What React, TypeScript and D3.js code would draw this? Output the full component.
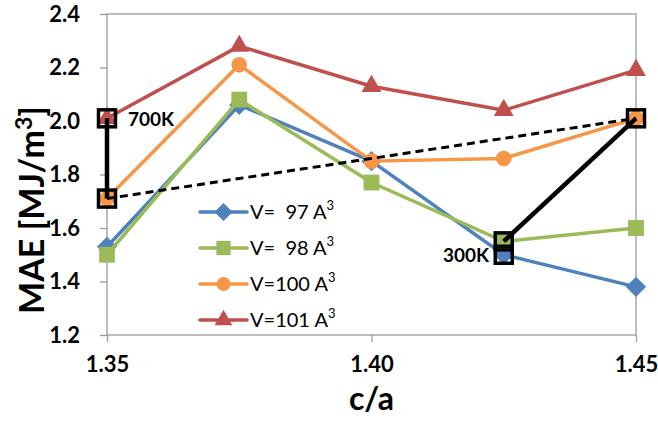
import React, { useEffect, useRef } from 'react';
import * as d3 from 'd3';

// c/a values on the x axis
const ca = [1.35, 1.375, 1.4, 1.425, 1.45];
const xTicks = [1.35, 1.4, 1.45];
const yTicks = [1.2, 1.4, 1.6, 1.8, 2.0, 2.2, 2.4];

const v97 = [1.53, 2.06, 1.85, 1.5, 1.38];
const v98 = [1.5, 2.08, 1.77, 1.55, 1.6];
const v100 = [1.71, 2.21, 1.85, 1.86, 2.01];
const v101 = [2.01, 2.28, 2.13, 2.04, 2.19];

const seriesNames = ['V=  97 A', 'V=  98 A', 'V=100 A', 'V=101 A'];

// black overlay: 700K / 300K
const solid700 = [[1.35, 2.01], [1.35, 1.71]];
const dashed = [[1.35, 1.71], [1.45, 2.01]];
const solid300 = [[1.425, 1.55], [1.45, 2.01]];
const boxes = [[1.35, 2.01], [1.35, 1.71], [1.425, 1.55], [1.425, 1.5], [1.45, 2.01]];

export default function App() {
  const ref = useRef<SVGSVGElement>(null);

  useEffect(() => {
    const svg = d3.select(ref.current);
    svg.selectAll('*').remove();
    const font = 'Lato, "Open Sans", sans-serif';
    const left = 107, right = 636, top = 14, bottom = 335;

    const x = d3.scaleLinear().domain([1.35, 1.45]).range([left, right]);
    const y = d3.scaleLinear().domain([1.2, 2.4]).range([bottom, top]);
    const grey = '#9a9a9a';

    // plot frame
    svg.append('rect')
      .attr('x', left).attr('y', top)
      .attr('width', right - left).attr('height', bottom - top)
      .attr('fill', 'none').attr('stroke', grey).attr('stroke-width', 1.3);

    const yAxis = svg.append('g')
      .attr('transform', `translate(${left},0)`)
      .call(d3.axisLeft(y).tickValues(yTicks).tickFormat(d3.format('.1f')).tickSize(7).tickPadding(20));
    yAxis.select('.domain').remove();
    yAxis.selectAll('line').attr('stroke', grey).attr('stroke-width', 1.3);
    yAxis.selectAll('text').attr('font-family', font).attr('font-size', 22)
      .attr('font-weight', 'bold').attr('fill', '#000');

    const xAxis = svg.append('g')
      .attr('transform', `translate(0,${bottom})`)
      .call(d3.axisBottom(x).tickValues(xTicks).tickFormat(d3.format('.2f')).tickSize(7).tickPadding(14));
    xAxis.select('.domain').remove();
    xAxis.selectAll('line').attr('stroke', grey).attr('stroke-width', 1.3);
    xAxis.selectAll('text').attr('font-family', font).attr('font-size', 22)
      .attr('font-weight', 'bold').attr('fill', '#000');

    svg.append('text')
      .attr('x', (left + right) / 2).attr('y', 410)
      .attr('text-anchor', 'middle')
      .attr('font-family', font).attr('font-size', 32).attr('font-weight', 'bold')
      .text('c/a');

    const yt = svg.append('text')
      .attr('transform', 'translate(44,210) rotate(-90)')
      .attr('text-anchor', 'middle')
      .attr('font-family', font).attr('font-size', 34).attr('font-weight', 'bold');
    yt.append('tspan').text('MAE [MJ/m');
    yt.append('tspan').attr('dy', -12).attr('font-size', 23).text('3');
    yt.append('tspan').attr('dy', 12).text(']');

    const colors = ['#4F81BD', '#9BBB59', '#F79646', '#C0504D'];
    const symbols = [
      d3.symbol().type(d3.symbolDiamond2).size(260),
      d3.symbol().type(d3.symbolSquare).size(250),
      d3.symbol().type(d3.symbolCircle).size(190),
      d3.symbol().type(d3.symbolTriangle).size(170),
    ];
    const data = [v97, v98, v100, v101];
    const line = d3.line<number>().x((_, i) => x(ca[i])).y(d => y(d));

    data.forEach((vals, k) => {
      svg.append('path').attr('d', line(vals))
        .attr('fill', 'none').attr('stroke', colors[k]).attr('stroke-width', 3.5)
        .attr('stroke-linejoin', 'round');
      svg.append('g').selectAll('path').data(vals).enter().append('path')
        .attr('d', symbols[k]())
        .attr('transform', (d, i) => `translate(${x(ca[i])},${y(d)})`)
        .attr('fill', colors[k]);
    });

    // legend
    data.forEach((_, k) => {
      const ly = 212 + k * 36;
      const g = svg.append('g');
      g.append('line').attr('x1', 200).attr('x2', 247).attr('y1', ly).attr('y2', ly)
        .attr('stroke', colors[k]).attr('stroke-width', 3.5).attr('stroke-linecap', 'round');
      g.append('path').attr('d', symbols[k]())
        .attr('transform', `translate(223.5,${ly}) scale(0.9)`)
        .attr('fill', colors[k]);
      const t = g.append('text').attr('x', 250).attr('y', ly + 7)
        .attr('font-family', font).attr('font-size', 20)
        .style('white-space', 'pre');
      t.append('tspan').text(seriesNames[k]);
      t.append('tspan').attr('dy', -9).attr('font-size', 13).text('3');
    });

    // black overlay
    const pline = d3.line<number[]>().x(d => x(d[0])).y(d => y(d[1]));
    svg.append('path').attr('d', pline(dashed)).attr('fill', 'none')
      .attr('stroke', '#000').attr('stroke-width', 3).attr('stroke-dasharray', '8,5');
    [solid700, solid300].forEach(p => {
      svg.append('path').attr('d', pline(p)).attr('fill', 'none')
        .attr('stroke', '#000').attr('stroke-width', 4.5);
    });
    svg.append('g').selectAll('rect').data(boxes).enter().append('rect')
      .attr('x', d => x(d[0]) - 8.5).attr('y', d => y(d[1]) - 8.5)
      .attr('width', 17).attr('height', 17)
      .attr('fill', 'none').attr('stroke', '#000').attr('stroke-width', 3.5);

    svg.append('text').attr('x', 128).attr('y', 126)
      .attr('font-family', font).attr('font-size', 19).attr('font-weight', 'bold')
      .text('700K');
    svg.append('text').attr('x', 489).attr('y', 262).attr('text-anchor', 'end')
      .attr('font-family', font).attr('font-size', 19).attr('font-weight', 'bold')
      .text('300K');
  }, []);

  return (
    <svg ref={ref} width={658} height={421}
      style={{ position: 'absolute', left: 0, top: 0, background: '#fff' }} />
  );
}
